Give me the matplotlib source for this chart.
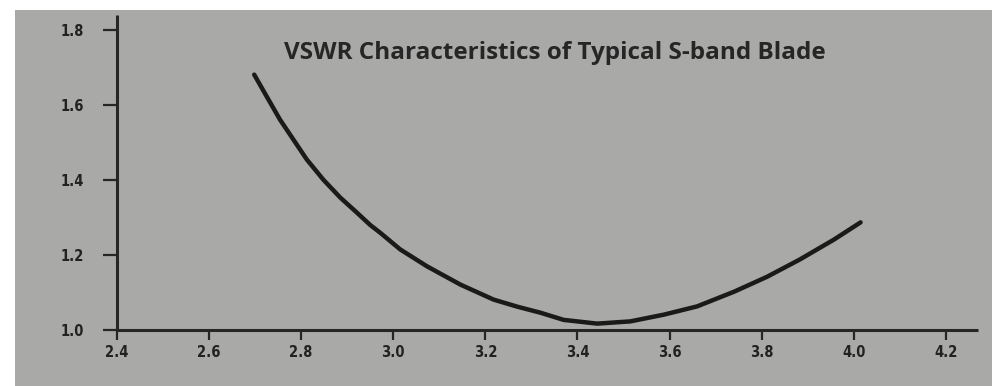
import matplotlib
matplotlib.use("Agg")
import matplotlib.pyplot as plt
from matplotlib.patches import Rectangle

# Data
freq_ghz = [2.698, 2.725, 2.754, 2.783, 2.812, 2.848, 2.885, 2.921, 2.950, 2.972,
            3.015, 3.073, 3.146, 3.218, 3.270, 3.320, 3.370, 3.443, 3.515, 3.588,
            3.660, 3.740, 3.812, 3.883, 3.957, 4.015]
vswr = [1.681, 1.623, 1.561, 1.508, 1.455, 1.401, 1.353, 1.313, 1.280, 1.259,
        1.215, 1.170, 1.121, 1.081, 1.062, 1.046, 1.027, 1.017, 1.023, 1.041,
        1.063, 1.102, 1.142, 1.188, 1.241, 1.287]
x_ticks = [2.4, 2.6, 2.8, 3.0, 3.2, 3.4, 3.6, 3.8, 4.0, 4.2]
x_labels = ["2.4", "2.6", "2.8", "3.0", "3.2", "3.4", "3.6", "3.8", "4.0", "4.2"]
y_ticks = [1.0, 1.2, 1.4, 1.6, 1.8]
y_labels = ["1.0", "1.2", "1.4", "1.6", "1.8"]
title = "VSWR Characteristics of Typical S-band Blade"

W, H = 992, 386
fig = plt.figure(figsize=(W / 100, H / 100), dpi=100, facecolor="white")
fig.patches.append(Rectangle((15 / W, 0), 1 - 15 / W, 1 - 10 / H,
                             transform=fig.transFigure, facecolor="#a9a9a7",
                             edgecolor="none", zorder=-10))

left, right = 117 / W, 978 / W
bottom, top = 1 - 330 / H, 1 - 15 / H
ax = fig.add_axes([left, bottom, right - left, top - bottom])
ax.set_facecolor("none")

ax.plot(freq_ghz, vswr, color="#1a1a1a", lw=3.2, solid_capstyle="round",
        solid_joinstyle="round")

ax.set_xlim(2.4, 4.27)
ax.set_ylim(1.0, 1.84)
ax.spines["top"].set_visible(False)
ax.spines["right"].set_visible(False)
for s in ("left", "bottom"):
    ax.spines[s].set_linewidth(2.2)
    ax.spines[s].set_color("#262626")
    ax.spines[s].set_capstyle("butt")

lab_font = dict(family=["DejaVu Sans"], weight="bold", stretch="condensed", size=10.5)
ax.set_xticks(x_ticks)
ax.set_xticklabels(x_labels, fontdict=lab_font, color="#222222")
ax.set_yticks(y_ticks)
ax.set_yticklabels(y_labels, fontdict=lab_font, color="#222222")
ax.tick_params(axis="x", direction="out", length=7, width=1.6, color="#262626", pad=4)
ax.tick_params(axis="y", direction="out", length=10, width=1.6, color="#262626", pad=14)

fig.text(555 / W, 1 - 53 / H, title, ha="center", va="center",
         family=["Open Sans", "DejaVu Sans"], weight="bold", fontsize=17.5,
         color="#262626")

fig.savefig("out.png", dpi=100, facecolor="white")
